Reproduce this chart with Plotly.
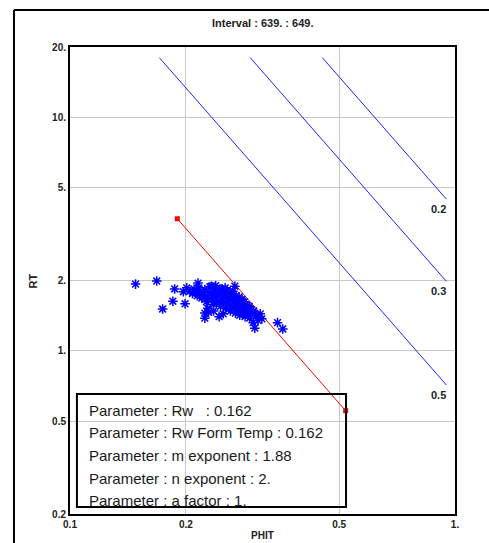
import numpy as np
import plotly.graph_objects as go

# Archie parameters for the interval
RW = 0.162
M_EXP = 1.88
N_EXP = 2.0
A_FACT = 1.0

# Water saturation iso-lines
SW_LEVELS = [0.2, 0.3, 0.5]
SW_LABELS = ["0.2", "0.3", "0.5"]
RT_TOP = 18.0
PHIT_END = 0.95

# Water line (Sw = 1) end points
WATER_PHIT = [0.19, 0.52]

# Log samples: total porosity and true resistivity
PHIT = [0.148, 0.168, 0.174, 0.185, 0.187, 0.199, 0.197, 0.201, 0.215, 0.221,
        0.224, 0.224, 0.233, 0.268, 0.299, 0.302, 0.315, 0.346, 0.357,
        0.205, 0.208, 0.210, 0.212, 0.214, 0.216, 0.218, 0.220, 0.222, 0.224,
        0.226, 0.228, 0.230, 0.231, 0.233, 0.235, 0.236, 0.238, 0.240, 0.241,
        0.243, 0.245, 0.246, 0.248, 0.249, 0.251, 0.252, 0.254, 0.255, 0.257,
        0.258, 0.260, 0.261, 0.263, 0.264, 0.266, 0.268, 0.269, 0.271, 0.272,
        0.274, 0.276, 0.277, 0.279, 0.281, 0.283, 0.285, 0.287, 0.289, 0.291,
        0.293, 0.296, 0.298, 0.304, 0.308, 0.312, 0.247, 0.262, 0.270, 0.280,
        0.256, 0.228, 0.236, 0.250, 0.244, 0.229, 0.284, 0.292, 0.300, 0.306,
        0.239, 0.253, 0.265, 0.275]
RT = [1.93, 1.99, 1.51, 1.63, 1.84, 1.59, 1.79, 1.86, 1.95, 1.70,
      1.45, 1.38, 1.89, 1.89, 1.32, 1.25, 1.37, 1.32, 1.24,
      1.80, 1.76, 1.84, 1.78, 1.72, 1.86, 1.80, 1.68, 1.75, 1.83,
      1.62, 1.70, 1.78, 1.88, 1.65, 1.73, 1.58, 1.80, 1.69, 1.62,
      1.76, 1.84, 1.55, 1.66, 1.72, 1.60, 1.79, 1.52, 1.68, 1.63,
      1.74, 1.57, 1.48, 1.66, 1.70, 1.54, 1.60, 1.45, 1.64, 1.50,
      1.58, 1.42, 1.55, 1.47, 1.62, 1.52, 1.40, 1.49, 1.56, 1.44,
      1.38, 1.50, 1.46, 1.41, 1.35, 1.44, 1.84, 1.76, 1.72, 1.66,
      1.82, 1.52, 1.48, 1.44, 1.40, 1.46, 1.62, 1.55, 1.48, 1.42,
      1.90, 1.86, 1.80, 1.70]

PARAM_LINES = [
    "Parameter : Rw\u00a0\u00a0\u00a0: 0.162",
    "Parameter : Rw Form Temp : 0.162",
    "Parameter : m exponent : 1.88",
    "Parameter : n exponent : 2.",
    "Parameter : a factor : 1.",
]

X_TICKS = [0.1, 0.2, 0.5, 1.0]
X_TICKTEXT = ["0.1", "0.2", "0.5", "1."]
Y_TICKS = [0.2, 0.5, 1, 2, 5, 10, 20]
Y_TICKTEXT = ["0.2", "0.5", "1.", "2.", "5.", "10.", "20."]


def archie_rt(phi, sw):
    phi = np.asarray(phi, dtype=float)
    return A_FACT * RW / (phi ** M_EXP * sw ** N_EXP)


def archie_phi(rt, sw):
    return (A_FACT * RW / (rt * sw ** N_EXP)) ** (1.0 / M_EXP)


FONT = "Liberation Sans, Arial, sans-serif"
BOLD = dict(family=FONT, color="#222", weight="bold")
fig = go.Figure()

# Iso-saturation lines
for sw, lab in zip(SW_LEVELS, SW_LABELS):
    phi = np.geomspace(archie_phi(RT_TOP, sw), PHIT_END, 20)
    rt = archie_rt(phi, sw)
    fig.add_trace(go.Scatter(x=phi, y=rt, mode="lines",
                             line=dict(color="#2222ff", width=1),
                             hoverinfo="skip", showlegend=False))
    fig.add_annotation(x=np.log10(PHIT_END), y=np.log10(rt[-1]), text=lab,
                       showarrow=False, xanchor="right", yanchor="top",
                       xshift=2, yshift=-2, font=dict(size=11, **BOLD))

# Water line
wphi = np.array(WATER_PHIT)
fig.add_trace(go.Scatter(x=wphi, y=archie_rt(wphi, 1.0), mode="lines+markers",
                         line=dict(color="red", width=1),
                         marker=dict(symbol="square", size=5, color="red"),
                         hoverinfo="skip", showlegend=False))

# Samples
fig.add_trace(go.Scatter(x=PHIT, y=RT, mode="markers",
                         marker=dict(symbol="asterisk-open", size=8, color="blue",
                                     line=dict(color="blue", width=1.5)),
                         showlegend=False))

# Parameter box
fig.add_shape(type="rect", xref="paper", yref="paper",
              x0=0.018, x1=0.717, y0=0.015, y1=0.257,
              line=dict(color="black", width=2), fillcolor="rgba(0,0,0,0)")
for i, txt in enumerate(PARAM_LINES):
    fig.add_annotation(xref="paper", yref="paper", x=0.043,
                       y=0.222 - i * 0.0485, text=txt, showarrow=False,
                       xanchor="left", yanchor="middle",
                       font=dict(family=FONT, size=15, color="#1a1a1a"))

# Outer frame
fig.add_shape(type="line", xref="paper", yref="paper",
              x0=-0.1455, x1=1.3, y0=1.079, y1=1.079,
              line=dict(color="black", width=2))
fig.add_shape(type="line", xref="paper", yref="paper",
              x0=-0.1455, x1=-0.1455, y0=1.079, y1=-0.2,
              line=dict(color="black", width=2))

fig.add_annotation(xref="paper", yref="paper", x=0.5, y=1.0685,
                   text="Interval : 639. : 649.", showarrow=False,
                   font=dict(size=11, **BOLD))

# Axis titles
fig.add_annotation(xref="paper", yref="paper", x=0.5, y=-0.047,
                   text="PHIT", showarrow=False, yanchor="middle",
                   font=dict(size=10, **BOLD))
fig.add_annotation(xref="paper", yref="paper", x=-0.117, y=0.5,
                   text="RT", showarrow=False, textangle=-90,
                   font=dict(size=11, **BOLD))

axis_common = dict(type="log", showline=True, mirror=True, linecolor="black",
                   linewidth=2, showgrid=True, gridcolor="#c8c8c8", gridwidth=1,
                   ticks="", zeroline=False, automargin=False,
                   tickfont=dict(size=10, **BOLD))

fig.update_layout(
    width=489, height=543,
    margin=dict(l=70, r=34, t=47, b=29),
    paper_bgcolor="white", plot_bgcolor="white",
    xaxis=dict(range=[-1, 0], tickvals=X_TICKS, ticktext=X_TICKTEXT,
               **axis_common),
    yaxis=dict(range=[np.log10(0.2), np.log10(20)], tickvals=Y_TICKS,
               ticktext=Y_TICKTEXT, **axis_common),
)

fig.write_html("out.html")
